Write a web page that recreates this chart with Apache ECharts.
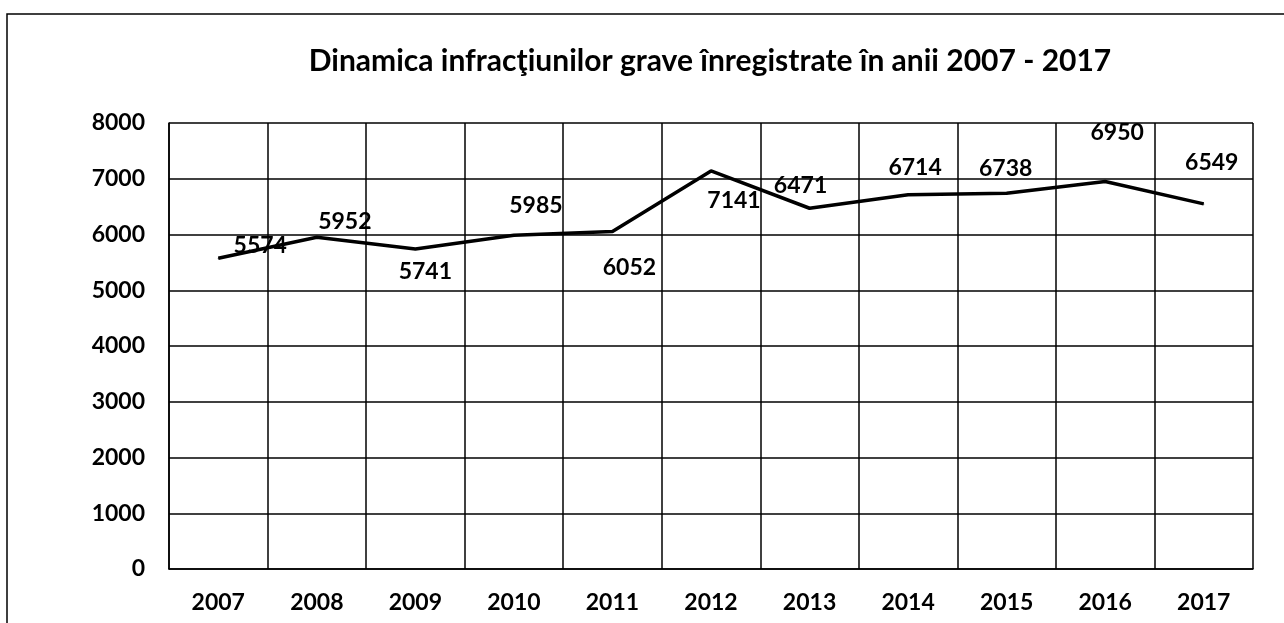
<!DOCTYPE html>
<html>
<head>
<meta charset="utf-8">
<script src="https://cdn.jsdelivr.net/npm/echarts@6/dist/echarts.min.js"></script>
<style>
  html, body { margin: 0; padding: 0; background: #fff; }
  #chart { width: 1284px; height: 623px; }
</style>
</head>
<body>
<div id="chart"></div>
<script>
// date
const years = ['2007', '2008', '2009', '2010', '2011', '2012', '2013', '2014', '2015', '2016', '2017'];
const crimes = [5574, 5952, 5741, 5985, 6052, 7141, 6471, 6714, 6738, 6950, 6549];
const yTicks = { min: 0, max: 8000, step: 1000 };

// deplasarea etichetelor fata de punct (px)
const labelShift = [
  [42, -13], [28, -16], [10, 23], [22, -30], [17, 36], [23, 30],
  [-9, -23], [7, -27], [-1, -25], [12, -49], [8, -41]
];

const chart = echarts.init(document.getElementById('chart'));
const font = 'Lato, "Open Sans", sans-serif';

chart.setOption({
  animation: false,
  backgroundColor: '#fff',
  title: {
    text: 'Dinamica infracţiunilor grave înregistrate în anii 2007 - 2017',
    left: 705, top: 41, textAlign: 'center',
    textStyle: { fontFamily: font, fontWeight: 'bold', fontSize: 30, color: '#000' }
  },
  graphic: [{
    type: 'rect',
    shape: { x: 7, y: 14, width: 1320, height: 700 },
    style: { fill: 'none', stroke: '#000', lineWidth: 1.5 },
    silent: true
  }],
  grid: { left: 169, right: 31, top: 123, bottom: 54 },
  xAxis: {
    type: 'category',
    data: years,
    boundaryGap: true,
    axisLine: { lineStyle: { color: '#000', width: 1.5 } },
    axisTick: { show: false },
    splitLine: { show: true, lineStyle: { color: '#000', width: 1.5 } },
    axisLabel: { color: '#000', fontFamily: font, fontWeight: 'bold', fontSize: 23, margin: 22 }
  },
  yAxis: {
    type: 'value',
    min: yTicks.min, max: yTicks.max, interval: yTicks.step,
    axisLine: { show: true, lineStyle: { color: '#000', width: 1.5 } },
    axisTick: { show: false },
    splitLine: { lineStyle: { color: '#000', width: 1.5 } },
    axisLabel: {
      color: '#000', fontFamily: font, fontWeight: 'bold', fontSize: 23, margin: 24,
      formatter: v => String(v)
    }
  },
  series: [{
    type: 'line',
    data: crimes.map((v, i) => ({
      value: v,
      label: { offset: labelShift[i] }
    })),
    symbol: 'circle',
    symbolSize: 1,
    itemStyle: { color: '#000' },
    lineStyle: { color: '#000', width: 3.5 },
    label: {
      show: true,
      position: 'inside',
      color: '#000',
      formatter: p => String(p.value),
      fontFamily: font, fontWeight: 'bold', fontSize: 23
    }
  }]
});
</script>
</body>
</html>
